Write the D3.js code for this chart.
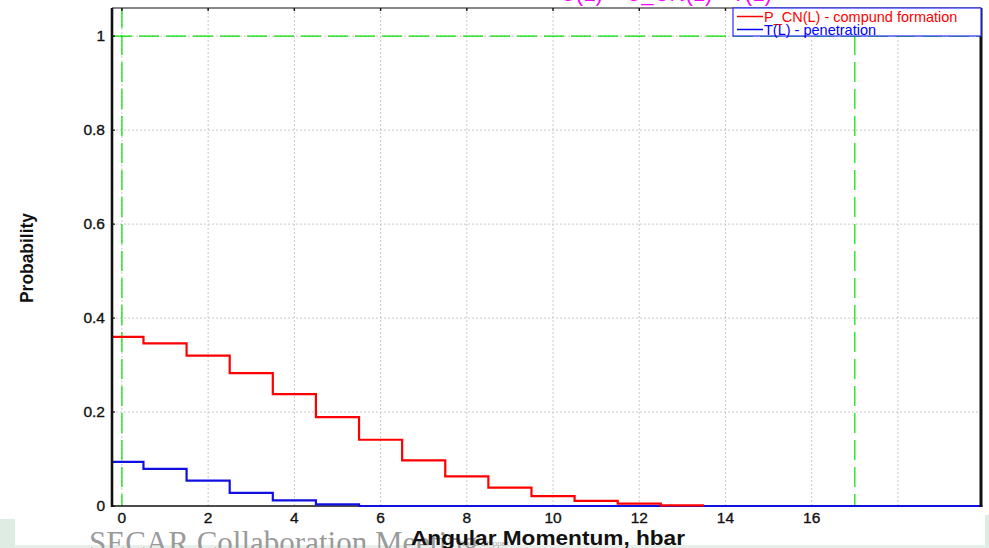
<html lang="en">
  <head>
    <meta charset="utf-8">
    <script src="https://d3js.org/d3.v7.min.js"></script>
    <style type="text/css">
body {
  margin: 0;
  background: white;
  font-family: "Liberation Sans", Arial, Helvetica, sans-serif;
}
    </style>
  </head>
  <body>
    <div id="chart"></div>
    <script type="text/javascript">
// values
const pcn = [0.360, 0.346, 0.320, 0.283, 0.238, 0.189, 0.141, 0.097,
             0.063, 0.039, 0.021, 0.011, 0.005, 0.0015];
const pen = [0.094, 0.079, 0.054, 0.028, 0.012, 0.0036, 0, 0, 0, 0,
             0, 0, 0, 0, 0, 0, 0, 0, 0, 0, 0];
const xTicks = [0, 2, 4, 6, 8, 10, 12, 14, 16, 18];
const xLabels = [0, 2, 4, 6, 8, 10, 12, 14, 16];
const yTicks = [0, 0.2, 0.4, 0.6, 0.8, 1];
const yLabels = ["0", "0.2", "0.4", "0.6", "0.8", "1"];
const greenX = [0, 17];
const greenY = [1];
const legendItems = [
  {name: "P_CN(L) - compund formation", color: "#ff0000"},
  {name: "T(L) - penetration", color: "#0000ff"}
];

const width = 989, height = 548;
const plot = {left: 112, right: 981, top: 8, bottom: 506};

const x = d3.scaleLinear().domain([-0.23, 19.95]).range([plot.left, plot.right + 1]);
const y = d3.scaleLinear().domain([0, 1.06]).range([plot.bottom, plot.top]);

const svg = d3.select("#chart").append("svg")
  .attr("width", width)
  .attr("height", height);

// cut-off magenta title at the top
svg.append("text")
  .attr("x", 667)
  .attr("y", 0.5)
  .attr("text-anchor", "middle")
  .attr("fill", "#ff00ff")
  .attr("font-size", 22)
  .text("σ(L) = σ_CN(L) · T(L)");

svg.append("defs").append("clipPath").attr("id", "clip")
  .append("rect")
    .attr("x", plot.left).attr("y", plot.top)
    .attr("width", plot.right - plot.left)
    .attr("height", plot.bottom - plot.top + 2);

svg.append("rect")
  .attr("x", plot.left).attr("y", plot.top)
  .attr("width", plot.right - plot.left)
  .attr("height", plot.bottom - plot.top)
  .attr("fill", "white");

// grid
const grid = svg.append("g")
  .attr("stroke", "#c8c8c8")
  .attr("stroke-dasharray", "2,2");
grid.selectAll(".gx").data(xTicks).join("line")
  .attr("x1", d => x(d)).attr("x2", d => x(d))
  .attr("y1", plot.top).attr("y2", plot.bottom);
grid.selectAll(".gy").data(yTicks.slice(1)).join("line")
  .attr("x1", plot.left).attr("x2", plot.right)
  .attr("y1", d => y(d)).attr("y2", d => y(d));

// green dashed markers
const green = svg.append("g")
  .attr("stroke", "#00e000")
  .attr("stroke-width", 1.2)
  .attr("stroke-dasharray", "20,7");
green.selectAll(".vx").data(greenX).join("line")
  .attr("x1", d => x(d)).attr("x2", d => x(d))
  .attr("y1", plot.top).attr("y2", plot.bottom);
green.selectAll(".hy").data(greenY).join("line")
  .attr("x1", plot.left).attr("x2", plot.right)
  .attr("y1", d => y(d)).attr("y2", d => y(d));

// frame
svg.append("line")
  .attr("x1", plot.left).attr("x2", plot.right)
  .attr("y1", plot.top).attr("y2", plot.top)
  .attr("stroke", "#111").attr("stroke-width", 1.2);
svg.append("line")
  .attr("x1", plot.left).attr("x2", plot.right + 1.5)
  .attr("y1", plot.bottom).attr("y2", plot.bottom)
  .attr("stroke", "#111").attr("stroke-width", 1.6);

function steps(values) {
  let pts = values.map((v, i) => [Math.max(i - 0.5, x.domain()[0]), v]);
  pts.push([values.length - 0.5, values[values.length - 1]]);
  return pts;
}

const line = d3.line()
  .x(d => x(d[0]))
  .y(d => y(d[1]))
  .curve(d3.curveStepAfter);

svg.append("g").attr("clip-path", "url(#clip)")
  .selectAll("path")
  .data([{v: pen, c: "#1010e0"}, {v: pcn, c: "#ff0000"}])
  .join("path")
    .attr("fill", "none")
    .attr("stroke", d => d.c)
    .attr("stroke-width", 2.2)
    .attr("d", d => line(steps(d.v)));

svg.append("line")
  .attr("x1", plot.left).attr("x2", plot.left)
  .attr("y1", plot.top).attr("y2", plot.bottom + 1)
  .attr("stroke", "#111").attr("stroke-width", 2.6);
svg.append("line")
  .attr("x1", plot.right).attr("x2", plot.right)
  .attr("y1", plot.top).attr("y2", plot.bottom + 1)
  .attr("stroke", "#111").attr("stroke-width", 3);

// small tick marks
svg.append("g").selectAll("line").data(xTicks).join("line")
  .attr("x1", d => x(d)).attr("x2", d => x(d))
  .attr("y1", plot.top).attr("y2", plot.top + 3)
  .attr("stroke", "#111").attr("stroke-width", 1.4);
svg.append("g").selectAll("line").data(yTicks).join("line")
  .attr("x1", plot.left).attr("x2", plot.left + 3)
  .attr("y1", d => y(d)).attr("y2", d => y(d))
  .attr("stroke", "#111").attr("stroke-width", 1.2);

// tick labels
svg.append("g").selectAll("text").data(xLabels).join("text")
  .attr("x", d => x(d))
  .attr("y", 523)
  .attr("text-anchor", "middle")
  .attr("font-size", 15.5)
  .attr("fill", "#111")
  .attr("stroke", "#111")
  .attr("stroke-width", 0.35)
  .text(d => d);
svg.append("g").selectAll("text").data(yTicks).join("text")
  .attr("x", 105)
  .attr("y", d => y(d) + 5)
  .attr("text-anchor", "end")
  .attr("font-size", 15.5)
  .attr("fill", "#111")
  .attr("stroke", "#111")
  .attr("stroke-width", 0.35)
  .text((d, i) => yLabels[i]);

// axis titles
svg.append("text")
  .attr("transform", "translate(33,258) rotate(-90)")
  .attr("text-anchor", "middle")
  .attr("font-size", 19)
  .attr("font-weight", "bold")
  .attr("textLength", 90)
  .attr("lengthAdjust", "spacingAndGlyphs")
  .attr("fill", "#111")
  .text("Probability");

// slide overlay at the bottom
svg.append("rect")
  .attr("x", 0).attr("y", 519).attr("width", 15).attr("height", 29)
  .attr("fill", "#dfece4");
svg.append("rect")
  .attr("x", 985).attr("y", 515).attr("width", 4).attr("height", 33)
  .attr("fill", "#dfece4");
svg.append("rect")
  .attr("x", 15).attr("y", 545).attr("width", 970).attr("height", 3)
  .attr("fill", "#e6efe9");
svg.append("text")
  .attr("x", 89)
  .attr("y", 553)
  .attr("font-family", "'Liberation Serif', 'DejaVu Serif', serif")
  .attr("font-size", 31)
  .attr("fill", "#9a9a9a")
  .text("SECAR Collaboration Meeting");
svg.append("text")
  .attr("x", 458)
  .attr("y", 546)
  .attr("font-size", 8)
  .attr("fill", "#aaaaaa")
  .text("Wade Chipper");

svg.append("text")
  .attr("x", 548)
  .attr("y", 545)
  .attr("text-anchor", "middle")
  .attr("font-size", 21)
  .attr("font-weight", "bold")
  .attr("textLength", 274)
  .attr("lengthAdjust", "spacingAndGlyphs")
  .attr("fill", "#111")
  .text("Angular Momentum, hbar");

// legend
const legend = svg.append("g");
legend.append("rect")
  .attr("x", 733).attr("y", 8)
  .attr("width", 248).attr("height", 28)
  .attr("fill", "white")
  .attr("stroke", "#2a2aff")
  .attr("stroke-width", 1.2);
const item = legend.selectAll("g").data(legendItems).join("g")
  .attr("transform", (d, i) => `translate(737,${16.5 + i * 13})`);
item.append("line")
  .attr("x1", 0).attr("x2", 26)
  .attr("stroke", d => d.color)
  .attr("stroke-width", 1.5);
item.append("text")
  .attr("x", 27)
  .attr("y", 5)
  .attr("font-size", 14.5)
  .attr("fill", d => d.color)
  .text(d => d.name);
    </script>
  </body>
</html>
